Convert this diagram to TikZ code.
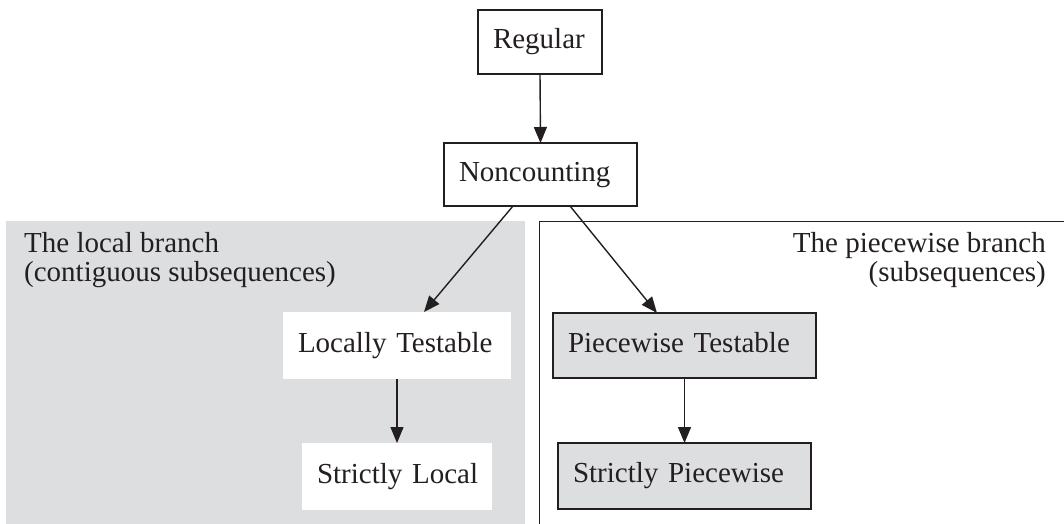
\documentclass[tikz,border=0pt]{standalone}
\usepackage{fontspec}
\setmainfont{Liberation Serif}
\usetikzlibrary{arrows.meta}
\definecolor{panelgray}{RGB}{221,222,224}
\definecolor{ink}{RGB}{35,31,32}
\begin{document}
\begin{tikzpicture}[x=1pt,y=-1pt, font=\fontsize{29}{29}\selectfont, text=ink,
  box/.style={line width=1.2pt, inner xsep=15pt, inner ysep=0pt, align=left,
    text height=20pt, text depth=6.5pt, outer sep=0pt},
  framed/.style={box, draw=ink},
  flow/.style={draw=ink, line width=1.4pt, -{Triangle[length=16pt,width=13pt]}},
  grouplabel/.style={inner sep=0pt}]
\useasboundingbox (0,0) rectangle (1064,523);
\clip (0,0) rectangle (1064,523);
% branch panels
\fill[panelgray] (6,221) rectangle (525,540);
\draw[ink, line width=0.9pt] (539,221) rectangle (1090,560);
\node[grouplabel, anchor=north west, align=left] (locallbl) at (24,232)
  {The local branch\\(contiguous subsequences)};
\node[grouplabel, anchor=north east, align=right] (piecelbl) at (1046,232)
  {The piecewise branch\\(subsequences)};
% nodes
\node[framed, fill=white, text width=94pt, minimum height=64pt] (reg) at (540,42) {\mbox{Regular}};
\node[framed, fill=white, text width=163pt, minimum height=63pt] (nc) at (540.5,174.5) {\mbox{Noncounting}};
\node[box, fill=white, text width=198pt, minimum height=67pt] (lt) at (397,345.5) {\mbox{Locally Testable}};
\node[box, fill=white, text width=160pt, minimum height=67pt] (sl) at (397,476.5) {\mbox{Strictly Local}};
\node[framed, fill=panelgray, text width=233pt, minimum height=65pt] (pt) at (684.5,345.5) {\mbox{Piecewise Testable}};
\node[framed, fill=panelgray, text width=223pt, minimum height=66pt] (sp) at (684.5,476) {\mbox{Strictly Piecewise}};
% connectors
\draw[flow] (reg.south) -- (nc.north);
\draw[flow] ([xshift=-27.5pt]nc.south) -- ([xshift=27pt]lt.north);
\draw[flow] ([xshift=29.5pt]nc.south) -- ([xshift=-27.5pt]pt.north);
\draw[flow] (lt.south) -- (sl.north);
\draw[flow] (pt.south) -- (sp.north);
\end{tikzpicture}
\end{document}
